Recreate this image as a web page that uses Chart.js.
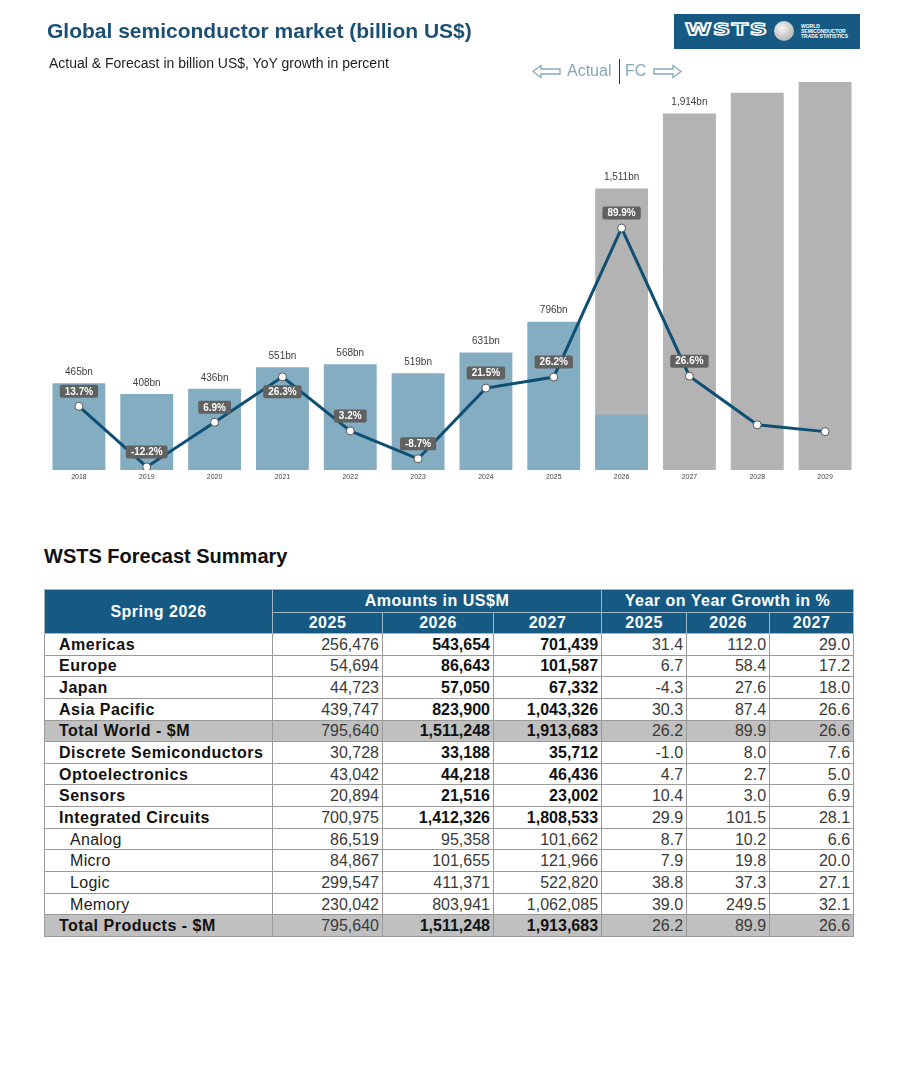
<!DOCTYPE html>
<html>
<head>
<meta charset="utf-8">
<script src="https://cdn.jsdelivr.net/npm/chart.js@4.4.1/dist/chart.umd.min.js"></script>
<style>
  body { margin: 0; background: #fff; font-family: Arial, "Liberation Sans", sans-serif; }
  #page { position: relative; width: 915px; height: 1087px; overflow: hidden; }
  .abs { position: absolute; white-space: nowrap; }
  #title { left: 47px; top: 19px; font-size: 21px; font-weight: bold; color: #1b4f73; }
  #subtitle { left: 49px; top: 55px; font-size: 14px; color: #1e1e1e; }
  #logo { left: 674px; top: 14px; width: 186px; height: 35px; background: #165a84; }
  #logo .word { position: absolute; left: 11px; top: 6px; font-size: 16px; line-height: 20px; font-weight: bold; color: #165a84; -webkit-text-stroke: 1.4px #fff; letter-spacing: 1px; font-family: "DejaVu Sans", sans-serif; transform: scaleX(1.5); transform-origin: left; }
  #logo .globe { position: absolute; left: 100px; top: 7px; width: 20px; height: 20px; border-radius: 50%; background: radial-gradient(circle at 40% 35%, #f4f4f4, #a3a3a3); }
  #logo .small { position: absolute; left: 127px; top: 10px; font-size: 5px; line-height: 5px; font-weight: bold; color: #fff; }
  .fc { font-size: 16px; color: #86a6ba; top: 62px; }
  #sep { left: 619px; top: 59px; width: 1px; height: 25px; background: #333; }
  #chartBox { left: 0; top: 0; }
  #tableTitle { left: 44px; top: 545px; font-size: 20px; font-weight: bold; color: #111; }
  #summary { position: absolute; left: 44px; top: 589px; width: 809px; border-collapse: collapse; table-layout: fixed; font-size: 16px; border: 1px solid #333; }
  #summary th { background: #165a84; color: #fff; font-weight: bold; text-align: center; border: 1px solid #9db6c8; padding: 0; letter-spacing: 0.5px; }
  #summary tbody tr { height: 21.65px; }
  #summary td { border: 1px solid #9a9a9a; padding: 0 3px 0 0; text-align: right; line-height: 19px; color: #3a3a3a; }
  #summary td.lbl { text-align: left; padding-left: 14px; color: #111; letter-spacing: 0.5px; }
  #summary tr.sub td.lbl { padding-left: 25px; color: #222; letter-spacing: 0.3px; }
  #summary .b { font-weight: bold; color: #111; }
  #summary tr.total td { background: #c0c0c0; }
</style>
</head>
<body>
<div id="page">
  <div id="chartBox" class="abs"><canvas id="marketChart" width="915" height="500"></canvas></div>
  <div id="title" class="abs">Global semiconductor market (billion US$)</div>
  <div id="subtitle" class="abs">Actual &amp; Forecast in billion US$, YoY growth in percent</div>
  <div id="logo" class="abs">
    <div class="word">WSTS</div>
    <div class="globe"></div>
    <div class="small">WORLD<br>SEMICONDUCTOR<br>TRADE STATISTICS</div>
  </div>
  <svg class="abs" style="left:532px;top:64px" width="30" height="15">
    <path d="M1,7.5 L9,1.5 L9,5 L28,5 L28,10 L9,10 L9,13.5 Z" fill="none" stroke="#86a6ba" stroke-width="1.3"/>
  </svg>
  <div class="abs fc" style="left:567px">Actual</div>
  <div id="sep" class="abs"></div>
  <div class="abs fc" style="left:625px">FC</div>
  <svg class="abs" style="left:652px;top:64px" width="30" height="15">
    <path d="M29,7.5 L21,1.5 L21,5 L2,5 L2,10 L21,10 L21,13.5 Z" fill="none" stroke="#86a6ba" stroke-width="1.3"/>
  </svg>
  <div id="tableTitle" class="abs">WSTS Forecast Summary</div>
  <table id="summary">
    <colgroup>
      <col style="width:228px"><col style="width:110px"><col style="width:111px"><col style="width:108px">
      <col style="width:85px"><col style="width:83px"><col style="width:84px">
    </colgroup>
    <thead>
      <tr style="height:23px">
        <th rowspan="2">Spring 2026</th>
        <th colspan="3">Amounts in US$M</th>
        <th colspan="3">Year on Year Growth in %</th>
      </tr>
      <tr id="yearRow" style="height:21px"></tr>
    </thead>
    <tbody id="summaryBody"></tbody>
  </table>
</div>

<script>
// chart data
const years = ["2018", "2019", "2020", "2021", "2022", "2023", "2024", "2025", "2026", "2027", "2028", "2029"];
const actualBn = [465, 408, 436, 551, 568, 519, 631, 796, 296, null, null, null];
const forecastBn = [null, null, null, null, null, null, null, null, 1511, 1914, 2025, 2083];
const marketBn = [465, 408, 436, 551, 568, 519, 631, 796, 1511, 1914, null, null];
const growthPct = [13.7, -12.2, 6.9, 26.3, 3.2, -8.7, 21.5, 26.2, 89.9, 26.6, 5.8, 2.9];

// table data
const tableYears = ["2025", "2026", "2027"];
const rowLabels = ["Americas", "Europe", "Japan", "Asia Pacific", "Total World - $M",
  "Discrete Semiconductors", "Optoelectronics", "Sensors", "Integrated Circuits",
  "Analog", "Micro", "Logic", "Memory", "Total Products - $M"];
const rowKinds = ["main", "main", "main", "main", "total", "main", "main", "main", "main",
  "sub", "sub", "sub", "sub", "total"];
const amount2025 = [256476, 54694, 44723, 439747, 795640, 30728, 43042, 20894, 700975, 86519, 84867, 299547, 230042, 795640];
const amount2026 = [543654, 86643, 57050, 823900, 1511248, 33188, 44218, 21516, 1412326, 95358, 101655, 411371, 803941, 1511248];
const amount2027 = [701439, 101587, 67332, 1043326, 1913683, 35712, 46436, 23002, 1808533, 101662, 121966, 522820, 1062085, 1913683];
const growth2025 = [31.4, 6.7, -4.3, 30.3, 26.2, -1.0, 4.7, 10.4, 29.9, 8.7, 7.9, 38.8, 39.0, 26.2];
const growth2026 = [112.0, 58.4, 27.6, 87.4, 89.9, 8.0, 2.7, 3.0, 101.5, 10.2, 19.8, 37.3, 249.5, 89.9];
const growth2027 = [29.0, 17.2, 18.0, 26.6, 26.6, 7.6, 5.0, 6.9, 28.1, 6.6, 20.0, 27.1, 32.1, 26.6];

const BLUE_BAR = "#84adc1";
const GRAY_BAR = "#b3b3b3";
const LINE_COLOR = "#0e4f73";

document.addEventListener("DOMContentLoaded", () => {
  renderMarketChart();
  renderSummaryTable();
});

const barLabelsPlugin = {
  id: "barLabels",
  afterDatasetsDraw(chart) {
    const ctx = chart.ctx;
    const blueMeta = chart.getDatasetMeta(0);
    const grayMeta = chart.getDatasetMeta(1);
    const lineMeta = chart.getDatasetMeta(2);

    ctx.save();
    years.forEach((year, i) => {
      if (marketBn[i] == null) return;
      let top = Infinity;
      if (actualBn[i] != null) top = Math.min(top, blueMeta.data[i].y);
      if (forecastBn[i] != null) top = Math.min(top, grayMeta.data[i].y);
      const x = blueMeta.data[i].x;

      ctx.font = "10px Arial";
      ctx.fillStyle = "#404040";
      ctx.textAlign = "center";
      ctx.textBaseline = "middle";
      ctx.fillText(marketBn[i].toLocaleString("en-US") + "bn", x, top - 11);

      // growth badge, above the point unless it would hit the value label
      const pt = lineMeta.data[i];
      const text = growthPct[i].toFixed(1) + "%";
      let cy = pt.y - 15;
      if (cy - 7 < top - 5) cy = pt.y + 15;
      ctx.font = "bold 10px Arial";
      const w = ctx.measureText(text).width + 10;
      ctx.fillStyle = "#616161";
      ctx.beginPath();
      ctx.roundRect(pt.x - w / 2, cy - 6.5, w, 13, 2);
      ctx.fill();
      ctx.fillStyle = "#fff";
      ctx.fillText(text, pt.x, cy + 0.5);
    });
    ctx.restore();
  },
};

function renderMarketChart() {
  const canvas = document.getElementById("marketChart");
  const ctx = canvas.getContext("2d");
  new Chart(ctx, {
    type: "bar",
    data: {
      labels: years,
      datasets: [
        {
          label: "Actual",
          data: actualBn,
          backgroundColor: BLUE_BAR,
          barPercentage: 0.78,
          categoryPercentage: 1,
          yAxisID: "y",
          order: 2,
        },
        {
          label: "Forecast",
          data: forecastBn,
          backgroundColor: GRAY_BAR,
          barPercentage: 0.78,
          categoryPercentage: 1,
          yAxisID: "y",
          order: 3,
        },
        {
          type: "line",
          label: "YoY growth",
          data: growthPct,
          yAxisID: "y2",
          borderColor: LINE_COLOR,
          borderWidth: 3,
          tension: 0,
          pointRadius: 4,
          pointBackgroundColor: "#fff",
          pointBorderColor: "#555",
          pointBorderWidth: 1,
          order: 1,
        },
      ],
    },
    options: {
      responsive: false,
      animation: false,
      layout: { padding: { left: 45, right: 56, top: 75, bottom: 0 } },
      plugins: {
        legend: { display: false },
        tooltip: { enabled: false },
      },
      scales: {
        x: {
          stacked: true,
          grid: { display: false, drawTicks: false },
          border: { display: false },
          ticks: {
            font: { family: "Arial", size: 7 },
            color: "#444",
            padding: 3,
            maxRotation: 0,
            autoSkip: false,
          },
          afterFit: (scale) => { scale.height = 30; },
        },
        y: { display: false, stacked: false, min: 0, max: 2120 },
        y2: { display: false, min: -13.5, max: 155.3 },
      },
    },
    plugins: [barLabelsPlugin],
  });
}

function renderSummaryTable() {
  const yearRow = document.getElementById("yearRow");
  [...tableYears, ...tableYears].forEach((yr) => {
    const th = document.createElement("th");
    th.textContent = yr;
    yearRow.appendChild(th);
  });

  const tbody = document.getElementById("summaryBody");
  rowLabels.forEach((label, i) => {
    const kind = rowKinds[i];
    const row = document.createElement("tr");
    row.className = kind;
    const boldAmounts = kind !== "sub";

    const cells = [
      { text: label, cls: "lbl" + (kind !== "sub" ? " b" : "") },
      { text: amount2025[i].toLocaleString("en-US"), cls: "" },
      { text: amount2026[i].toLocaleString("en-US"), cls: boldAmounts ? "b" : "" },
      { text: amount2027[i].toLocaleString("en-US"), cls: boldAmounts ? "b" : "" },
      { text: growth2025[i].toFixed(1), cls: "" },
      { text: growth2026[i].toFixed(1), cls: "" },
      { text: growth2027[i].toFixed(1), cls: "" },
    ];
    cells.forEach((c) => {
      const td = document.createElement("td");
      td.textContent = c.text;
      if (c.cls) td.className = c.cls;
      row.appendChild(td);
    });
    tbody.appendChild(row);
  });
}
</script>
</body>
</html>
